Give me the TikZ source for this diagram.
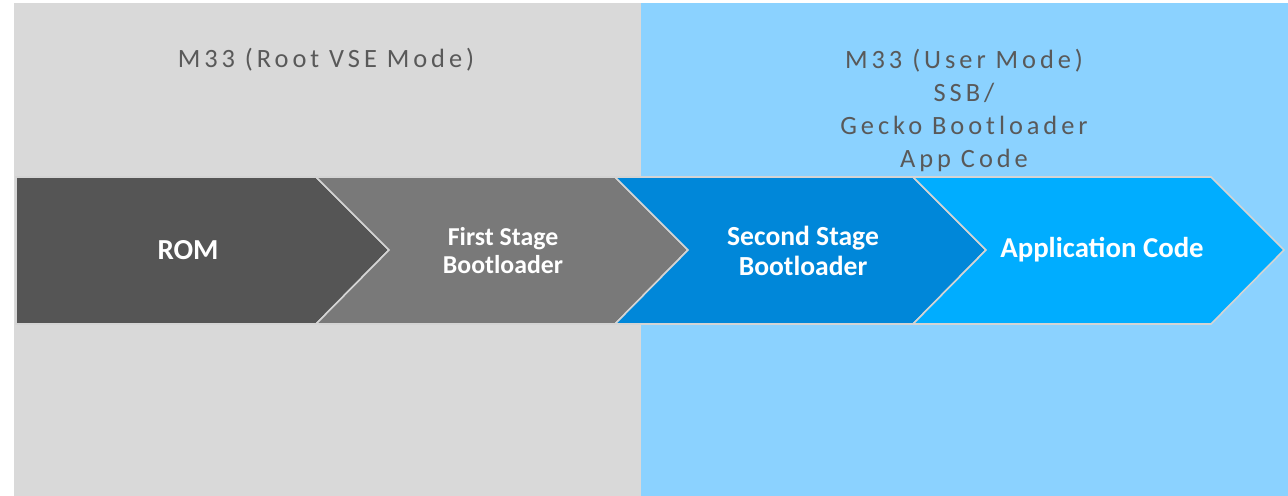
\documentclass[tikz,border=0pt]{standalone}
\usepackage{fontspec}
\setmainfont{Carlito}
\newfontfamily\spaced[LetterSpace=15]{Carlito}
\definecolor{bggray}{HTML}{D9D9D9}
\definecolor{bgblue}{HTML}{8BD2FF}
\definecolor{romc}{HTML}{555555}
\definecolor{fsbc}{HTML}{797979}
\definecolor{ssbc}{HTML}{0087D9}
\definecolor{appc}{HTML}{00ADFF}
\definecolor{edgec}{HTML}{D4D4D4}
\definecolor{titlec}{HTML}{595959}
\tikzset{
  chev/.style={draw=edgec, line width=0.8pt, line join=miter},
  title/.style={text=titlec, font=\spaced\fontsize{13.2}{16.5}\selectfont, align=center, inner sep=0pt},
  lbl/.style={text=white, font=\bfseries, align=center, inner sep=0pt}
}
\begin{document}
\begin{tikzpicture}[x=0.5pt, y=-0.5pt]
\useasboundingbox (0,0) rectangle (1288,496);
\fill[white] (0,0) rectangle (1288,496);
\fill[bggray] (14,3) rectangle (641,496);
\fill[bgblue] (641,3) rectangle (1288,496);
% chevrons
\path[chev, fill=romc] (16,177) -- (316,177) -- (389,250) -- (316,324) -- (16,324) -- cycle;
\path[chev, fill=fsbc] (316,177) -- (615,177) -- (688,250) -- (615,324) -- (316,324) -- (389,250) -- cycle;
\path[chev, fill=ssbc] (615,177) -- (913,177) -- (986,250) -- (913,324) -- (615,324) -- (688,250) -- cycle;
\path[chev, fill=appc] (913,177) -- (1211,177) -- (1284,250) -- (1211,324) -- (913,324) -- (986,250) -- cycle;
% titles
\node[title] (left) at (326,60) {M33 (Root VSE Mode)};
\node[title] (right) at (964,110) {M33 (User Mode)\\SSB/\\Gecko Bootloader\\App Code};
% labels
\node[lbl, font=\bfseries\fontsize{14.5}{16}\selectfont] (rom) at (188,250) {ROM};
\node[lbl, font=\bfseries\fontsize{12.9}{14}\selectfont] (fsb) at (503,251) {First Stage\\Bootloader};
\node[lbl, font=\bfseries\fontsize{13.8}{15}\selectfont] (ssb) at (803,251) {Second Stage\\Bootloader};
\node[lbl, font=\bfseries\fontsize{14.4}{16}\selectfont] (app) at (1102,250) {Application Code};
\end{tikzpicture}
\end{document}
